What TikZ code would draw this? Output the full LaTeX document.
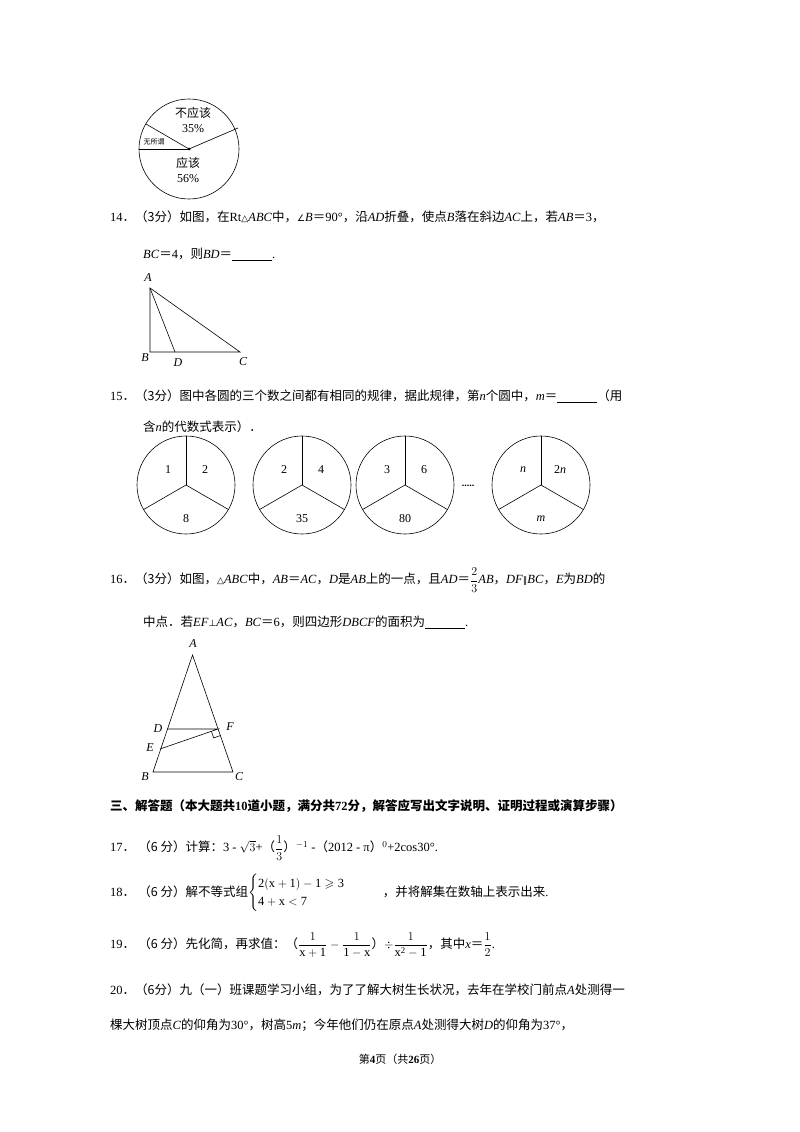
\documentclass[tikz,border=0pt]{standalone}
\usepackage{amsmath,amssymb}
\usepackage{fontspec}
\setmainfont{Liberation Serif}
\newfontfamily\cjk{Noto Sans CJK SC}
\newfontfamily\symf{DejaVu Sans}
\newcommand\EQ{{\cjk ＝}}
\newcommand\DT{{\cjk ．}}
\newcommand\LP{{\cjk （}}
\newcommand\RP{{\cjk ）}}
\newcommand\TRI{{\symf\small △}}
\newcommand\ANG{{\symf\small ∠}}
\newcommand\PAR{{\symf\small ∥}}
\newcommand\PERP{{\symf\small ⊥}}
\usetikzlibrary{calc}
\begin{document}
\begin{tikzpicture}[x=1pt,y=-1pt,
  txt/.style={anchor=west,inner sep=0pt,font=\fontsize{12.5}{15}\selectfont},
  lbl/.style={inner sep=0pt,font=\fontsize{12}{14}\selectfont\itshape},
  ln/.style={line width=0.6pt}]
\useasboundingbox[fill=white] (0,0) rectangle (800,1132);
% pie
\coordinate (O) at (189,149);
\draw[ln] (O) circle (50);
\draw[ln] (O) -- (238,128);
\draw[ln] (O) -- ($(O)+(-43,-25)$);
\draw[ln] (O) -- (139,149);
\fill (O) circle (1.5);
\node[inner sep=0pt,align=center,font=\fontsize{12}{15}\selectfont] (p1) at (193,120) {{\cjk 不应该}\\35\%};
\node[inner sep=0pt,align=center,font=\fontsize{12}{15}\selectfont] (p2) at (188,170) {{\cjk 应该}\\56\%};
\node[inner sep=0pt,font=\fontsize{7}{8}\selectfont] (p3) at (154,142) {\cjk 无所谓};
% Q14
\node[txt] (q14) at (110,217) {14\DT{\cjk（3分）如图，在}Rt\TRI\textit{ABC}{\cjk 中，}\ANG\textit{B}\EQ 90°{\cjk ，沿}\textit{AD}{\cjk 折叠，使点}\textit{B}{\cjk 落在斜边}\textit{AC}{\cjk 上，若}\textit{AB}\EQ 3{\cjk ，}};
\node[txt] (q14b) at (143,255) {\textit{BC}\EQ 4{\cjk ，则}\textit{BD}\EQ\underline{\hspace{3.2em}}.};
\coordinate (A) at (150,288); \coordinate (B) at (150,352); \coordinate (C) at (240,352); \coordinate (D) at (175,352);
\draw[ln] (A) -- (B) -- (C) -- cycle; \draw[ln] (A) -- (D);
\node[lbl] (lA) at (148,278) {A}; \node[lbl] (lB) at (145,358) {B};
\node[lbl] (lD) at (178,363) {D}; \node[lbl] (lC) at (243,362) {C};
% Q15
\node[txt] (q15) at (110,396) {15\DT{\cjk（3分）图中各圆的三个数之间都有相同的规律，据此规律，第}\textit{n}{\cjk 个圆中，}\textit{m}\EQ\underline{\hspace{3.2em}}{\cjk （用}};
\node[txt] (q15b) at (143,427) {{\cjk 含}\textit{n}{\cjk 的代数式表示）．}};
\foreach \cx/\a/\b/\c in {186/1/2/8,302/2/4/35,405/3/6/80,541/\textit{n}/2\textit{n}/\textit{m}}{
  \draw[ln] (\cx,485) circle (49);
  \draw[ln] (\cx,485) -- (\cx,436);
  \draw[ln] (\cx,485) -- ++(-42.4,24.5);
  \draw[ln] (\cx,485) -- ++(42.4,24.5);
  \node[inner sep=0pt,font=\fontsize{12}{14}\selectfont] at (\cx-18,470) {\a};
  \node[inner sep=0pt,font=\fontsize{12}{14}\selectfont] at (\cx+19,470) {\b};
  \node[inner sep=0pt,font=\fontsize{12}{14}\selectfont] at (\cx,519) {\c};
}
\node[inner sep=0pt,font=\bfseries] (dots) at (468,486) {.....};
% Q16
\node[txt] (q16) at (110,580) {16\DT{\cjk（3分）如图，}\TRI\textit{ABC}{\cjk 中，}\textit{AB}\EQ\textit{AC}{\cjk ，}\textit{D}{\cjk 是}\textit{AB}{\cjk 上的一点，且}\textit{AD}\EQ$\dfrac{2}{3}$\textit{AB}{\cjk ，}\textit{DF}\PAR\textit{BC}{\cjk ，}\textit{E}{\cjk 为}\textit{BD}{\cjk 的}};
\node[txt] (q16b) at (143,622) {{\cjk 中点．若}\textit{EF}\PERP\textit{AC}{\cjk ，}\textit{BC}\EQ 6{\cjk ，则四边形}\textit{DBCF}{\cjk 的面积为}\underline{\hspace{3.2em}}.};
\coordinate (A2) at (192.5,655); \coordinate (B2) at (153,772); \coordinate (C2) at (233,772);
\coordinate (D2) at (167,729); \coordinate (F2) at (218,729); \coordinate (E2) at (160,749);
\draw[ln] (A2) -- (B2) -- (C2) -- cycle;
\draw[ln] (D2) -- (F2) -- (E2);
\draw[ln] ($(F2)+(-6.6,2.3)$) -- ++(2.3,6.6) -- ++(6.6,-2.3);
\node[lbl] at (193,644) {A}; \node[lbl] at (158,729) {D}; \node[lbl] at (230,727) {F};
\node[lbl] at (150,748) {E}; \node[lbl] at (145,777) {B}; \node[lbl] at (239,777) {C};
% section
\node[txt,font=\fontsize{12.5}{15}\selectfont\bfseries] (sec) at (110,806) {{\cjk\bfseries 三、解答题（本大题共}10{\cjk\bfseries 道小题，满分共}72{\cjk\bfseries 分，解答应写出文字说明、证明过程或演算步骤）}};
\node[txt] (q17) at (110,848) {17\DT\ {\cjk（6 分）计算：}3 - $\sqrt{3}$+\LP$\dfrac{1}{3}$\RP$^{-1}$ -\LP 2012 - π\RP$^{0}$+2cos30°.};
\node[txt] (q18) at (110,893) {18\DT\ {\cjk（6 分）解不等式组}$\begin{cases}\mathrm{2(x+1)-1\geqslant 3}\\ \mathrm{4+x<7}\end{cases}$\qquad{\cjk ，并将解集在数轴上表示出来}.};
\node[txt] (q19) at (110,945) {19\DT\ {\cjk（6 分）先化简，再求值：}\LP$\dfrac{1}{\mathrm{x+1}}-\dfrac{1}{\mathrm{1-x}}$\RP$\div\dfrac{1}{\mathrm{x^2-1}}${\cjk ，其中}\textit{x}\EQ$\dfrac{1}{2}$.};
\node[txt] (q20) at (110,990) {20\DT{\cjk（6分）九（一）班课题学习小组，为了了解大树生长状况，去年在学校门前点}\textit{A}{\cjk 处测得一}};
\node[txt] (q20b) at (110,1025) {{\cjk 棵大树顶点}\textit{C}{\cjk 的仰角为}30°{\cjk ，树高}5\textit{m}{\cjk ；今年他们仍在原点}\textit{A}{\cjk 处测得大树}\textit{D}{\cjk 的仰角为}37°{\cjk ，}};
\node[inner sep=0pt,font=\fontsize{11}{13}\selectfont] (foot) at (400,1059) {{\cjk 第}\textbf{4}{\cjk 页（共}\textbf{26}{\cjk 页）}};
\end{tikzpicture}
\end{document}
